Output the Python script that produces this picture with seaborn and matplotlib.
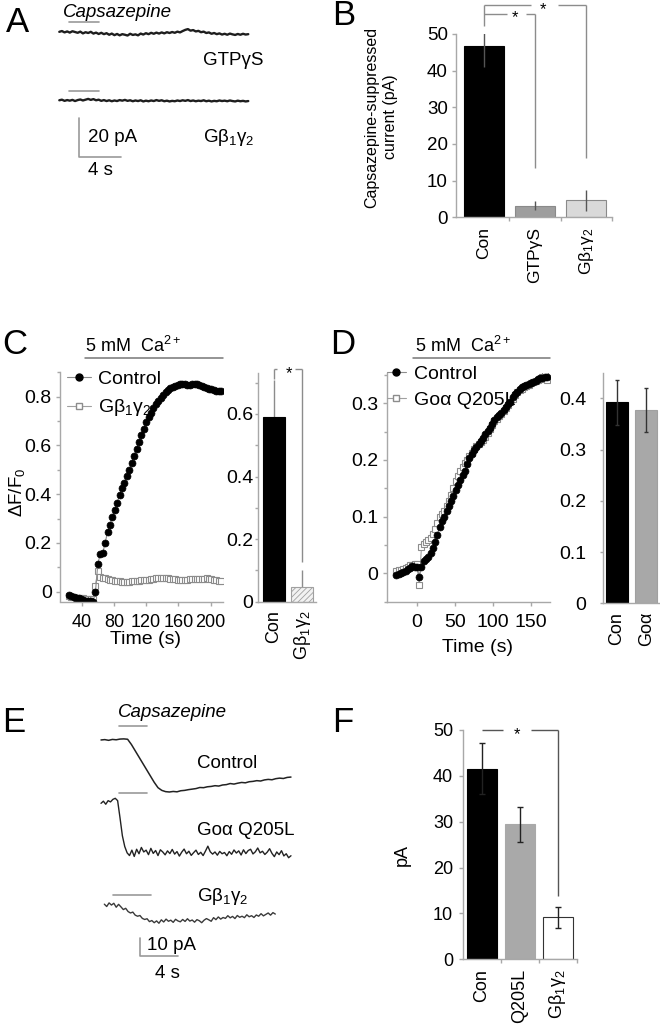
import numpy as np
import pandas as pd
import matplotlib
matplotlib.use("Agg")
import matplotlib.pyplot as plt
from matplotlib.lines import Line2D
from matplotlib.ticker import FuncFormatter, MultipleLocator
import seaborn as sns

# ======================= DATA =======================
# Panel A: whole-cell current traces (pA relative to baseline), sampled every 0.25 s
a_dt = 0.25
a_gtps = [0.6, 1.0, 0.3, 0.8, 0.2, 0.9, 0.5, 0.1, 0.7, -0.2,
          0.4, 0.0, 0.6, -0.3, 0.2, -0.5, 0.1, -0.6, -0.1, -0.9,
          -0.3, -1.1, -0.5, -1.2, -0.6, -0.9, -1.3, -0.4, -1.0, -0.7,
          -1.2, -0.3, -0.8, -0.1, -0.6, 0.1, -0.4, 0.2, -0.3, 0.3,
          -0.2, 0.4, 0.0, 0.5, 0.1, 0.7, 0.3, 1.0, 1.6, 2.0,
          1.2, 1.5, 0.8, 1.1, 0.4, 0.7, 0.0, 0.3, -0.4, 0.0,
          -0.6, -0.2, -0.8, -0.4, -0.9, -0.3, -0.7, -1.0, -0.5, -0.9,
          -0.4, -0.8, -0.6]
a_gbg = [0.2, 0.5, -0.1, 0.3, 0.0, 0.4, -0.2, 0.3, 0.6, 0.1,
         0.5, 0.9, 0.4, 0.8, 0.2, 0.5, -0.1, 0.3, -0.2, 0.2,
         -0.3, 0.1, -0.2, 0.3, 0.0, 0.4, -0.1, 0.2, -0.3, 0.1,
         -0.2, 0.2, -0.4, 0.0, -0.3, 0.1, -0.2, 0.3, -0.1, 0.2,
         -0.3, 0.0, -0.4, -0.1, -0.3, 0.1, -0.2, 0.2, -0.1, 0.3,
         -0.2, 0.1, -0.3, 0.0, -0.2, 0.2, -0.3, 0.0, -0.4, -0.1,
         -0.3, 0.1, -0.2, 0.0, -0.3, 0.1, -0.2, -0.4, 0.0, -0.3,
         -0.1, -0.4, -0.2]
a_capsazepine = (0.95, 3.8)   # application period, s

# Panel B
b_groups = ["Con", "GTPγS", "Gβ$_1$γ$_2$"]
b_mean = [46.7, 3.2, 4.6]
b_sem = [5.6, 1.3, 2.8]

# Panel C: time course
c_time = list(range(24, 214, 3))
c_control = [-0.015, -0.018, -0.021, -0.024, -0.027, -0.030, -0.033, -0.036, -0.038, -0.040, -0.043,
             0.000, 0.115, 0.155, 0.158, 0.200, 0.245, 0.275, 0.305, 0.335, 0.365,
             0.397, 0.424, 0.448, 0.474, 0.500, 0.530, 0.558, 0.587, 0.615, 0.643,
             0.668, 0.695, 0.716, 0.735, 0.752, 0.768, 0.782, 0.795, 0.808, 0.820,
             0.828, 0.834, 0.838, 0.842, 0.846, 0.850, 0.853, 0.850, 0.849, 0.849,
             0.850, 0.852, 0.850, 0.847, 0.843, 0.838, 0.835, 0.832, 0.830, 0.828,
             0.823, 0.822, 0.822]
c_gbg = [-0.018, -0.020, -0.022, -0.024, -0.025, -0.026, -0.027, -0.028, -0.029, -0.030, -0.028,
         0.025, 0.085, 0.062, 0.058, 0.055, 0.052, 0.050, 0.048, 0.046, 0.044,
         0.043, 0.042, 0.041, 0.041, 0.042, 0.043, 0.044, 0.045, 0.046, 0.047,
         0.048, 0.049, 0.050, 0.052, 0.054, 0.056, 0.057, 0.058, 0.057, 0.056,
         0.055, 0.054, 0.053, 0.052, 0.050, 0.049, 0.048, 0.049, 0.050, 0.051,
         0.052, 0.052, 0.051, 0.052, 0.053, 0.054, 0.055, 0.054, 0.052, 0.050,
         0.047, 0.045, 0.044]
c_groups = ["Con", "Gβ$_1$γ$_2$"]
c_mean = [0.59, 0.048]
c_sem = [0.12, 0.053]
c_ca_start = 44

# Panel D: time course
d_time = list(range(-27, 172, 3))
d_control = [-0.003, -0.002, 0.000, 0.003, 0.005, 0.007, 0.010, 0.013, 0.012, 0.012,
             -0.006, 0.011, 0.022, 0.026, 0.029, 0.036, 0.044, 0.056, 0.068, 0.082,
             0.092, 0.100, 0.110, 0.118, 0.128, 0.137, 0.147, 0.156, 0.165, 0.173,
             0.181, 0.192, 0.204, 0.211, 0.217, 0.223, 0.228, 0.233, 0.239, 0.246,
             0.251, 0.257, 0.264, 0.270, 0.276, 0.279, 0.283, 0.288, 0.293, 0.298,
             0.303, 0.311, 0.316, 0.320, 0.325, 0.328, 0.331, 0.332, 0.334, 0.336,
             0.338, 0.340, 0.342, 0.344, 0.345, 0.347, 0.346]
d_goa = [0.005, 0.006, 0.006, 0.008, 0.010, 0.012, 0.014, 0.015, 0.016, 0.017,
         -0.020, 0.047, 0.052, 0.055, 0.058, 0.062, 0.070, 0.078, 0.088, 0.100,
         0.104, 0.110, 0.118, 0.127, 0.138, 0.150, 0.163, 0.172, 0.180, 0.188,
         0.194, 0.200, 0.207, 0.213, 0.219, 0.224, 0.228, 0.232, 0.236, 0.241,
         0.247, 0.254, 0.262, 0.268, 0.272, 0.277, 0.281, 0.286, 0.291, 0.297,
         0.302, 0.308, 0.314, 0.319, 0.323, 0.326, 0.329, 0.331, 0.333, 0.335,
         0.337, 0.339, 0.341, 0.343, 0.346, 0.350, 0.341]
d_groups = ["Con", "Goα"]
d_mean = [0.392, 0.377]
d_sem = [0.044, 0.043]
d_ca_start = -5

# Panel E: current traces (pA relative to baseline)
e_dt_control = 0.4
e_control = [0.0, 0.2, -0.2, 0.3, 0.1, 0.5, 0.6, 0.4, -2.5, -6.0,
             -9.5, -13.0, -16.5, -20.0, -23.5, -26.5, -28.0, -28.7, -28.9, -28.6,
             -28.8, -28.2, -28.0, -27.6, -27.3, -27.0, -26.4, -26.5, -26.0, -25.8,
             -25.4, -25.6, -25.0, -24.8, -24.2, -24.5, -24.0, -23.6, -23.8, -23.2,
             -23.0, -22.6, -22.8, -22.2, -21.9, -22.1, -21.5, -21.2, -21.4, -20.8,
             -20.6]
e_dt = 0.25
e_goa = [0.0, 1.2, -0.5, 1.5, 0.8, 2.2, 2.8, 1.5, -8.0, -18.0,
         -24.0, -27.5, -29.0, -26.0, -29.5, -25.5, -28.0, -24.5, -27.0,
         -26.0, -28.5, -25.0, -27.8, -26.2, -29.0, -25.8, -27.0, -28.6, -26.4,
         -27.9, -25.6, -28.2, -26.8, -29.3, -27.1, -25.4, -28.0, -26.6, -28.9,
         -27.4, -26.0, -28.4, -27.2, -29.0, -26.5, -23.8, -26.9, -28.2, -27.0,
         -28.8, -26.7, -28.0, -27.3, -29.1, -26.8, -28.3, -25.9, -27.6, -26.4,
         -28.7, -25.8, -27.9, -26.2, -25.5, -28.1, -26.9, -24.8, -27.5, -26.6,
         -28.4, -27.1, -25.2, -27.8, -29.6, -27.0, -28.5, -26.3, -29.2, -28.0,
         -30.2, -29.1]
e_gbg_start = 0.35
e_gbg = [0.5, -0.8, 1.2, 0.0, 1.0, -1.2, 0.4,
         -1.0, -2.5, -1.8, -3.6, -4.4, -3.9, -5.6, -6.2, -5.8, -7.4, -8.0, -7.6, -9.2, -8.6, -9.8,
         -8.8, -10.1, -8.2, -9.4, -7.8, -9.0, -8.4, -9.6, -7.9, -8.8, -9.3, -8.0,
         -9.1, -7.6, -8.9, -8.3, -9.5, -8.1, -8.7, -9.8, -8.4, -7.5, -8.2, -9.0,
         -7.0, -8.1, -6.6, -7.8, -6.9, -7.4, -5.9, -7.1, -6.3, -7.5, -5.8, -6.8,
         -6.2, -7.0, -5.4, -6.5, -5.9, -6.9, -5.5, -6.2, -4.8, -6.0, -5.2, -4.4,
         -5.6, -4.2, -5.0]
e_capsazepine = [(1.93, 4.87), (1.93, 4.87), (1.23, 5.23)]

# Panel F
f_groups = ["Con", "Q205L", "Gβ$_1$γ$_2$"]
f_mean = [41.6, 29.4, 9.2]
f_sem = [5.5, 3.8, 2.3]

# ======================= STYLE / LAYOUT =======================
sns.set_style("ticks")
plt.rcParams["font.family"] = ["Liberation Sans", "DejaVu Sans"]
plt.rcParams["mathtext.default"] = "regular"
plt.rcParams["text.color"] = "black"
plt.rcParams["hatch.linewidth"] = 0.6

W, H = 660, 1025
fig = plt.figure(figsize=(W / 100, H / 100), dpi=100)
SPINE = "#a8a8a8"
BRK = "#8c8c8c"
BARLINE = "#9a9a9a"
fmt_g = FuncFormatter(lambda v, p: f"{v:g}")


def px_axes(left, top, right, bottom):
    return fig.add_axes([left / W, 1 - bottom / H, (right - left) / W, (bottom - top) / H])


def ptext(x, y, s, **kw):
    kw.setdefault("fontsize", 13)
    kw.setdefault("va", "baseline")
    return fig.text(x / W, 1 - y / H, s, **kw)


def style(ax, fs):
    sns.despine(ax=ax)
    for s in ["left", "bottom"]:
        ax.spines[s].set_color(SPINE)
        ax.spines[s].set_linewidth(1.0)
    ax.tick_params(colors=SPINE, labelcolor="black", labelsize=fs, length=3, width=1)
    ax.tick_params(which="minor", colors=SPINE, length=2, width=1)
    ax.set_xlabel("")
    ax.set_ylabel("")


def seg(ax, xs, ys, color=BRK, lw=1.0):
    ax.plot(xs, ys, color=color, lw=lw, clip_on=False, solid_capstyle="butt")


def star(ax, x, y, fs=12):
    ax.annotate("*", (x, y), xytext=(0, -3), textcoords="offset points",
                ha="center", va="center", fontsize=fs, annotation_clip=False)


def bars(ax, groups, means, sems, fills, edges, width, ecolor, cap, ezorder=3):
    df = pd.DataFrame({"group": groups, "value": means})
    sns.barplot(data=df, x="group", y="value", hue="group", palette=fills, legend=False,
                width=width, errorbar=None, saturation=1, linewidth=0.8, ax=ax)
    for p, ec in zip(ax.patches, edges):
        p.set_edgecolor(ec)
    ax.errorbar(np.arange(len(means)), means, yerr=sems, fmt="none", ecolor=ecolor,
                elinewidth=1, capsize=cap, capthick=1, zorder=ezorder)


# ---------------- Panel A ----------------
axA = px_axes(50, 0, 270, 185)
axA.axis("off")
axA.set_xlim(-0.886, 20.07)
axA.set_ylim(-77.95, 16.92)
A_OFF = [0.0, -34.7]
A_BAR_Y = [5.8, -29.7]
for vals, off, by in zip([a_gtps, a_gbg], A_OFF, A_BAR_Y):
    t = np.arange(len(vals)) * a_dt
    sns.lineplot(x=t, y=np.array(vals) + off, ax=axA, color="#1e1e1e", lw=1.7)
    axA.plot(a_capsazepine, [by, by], color=BARLINE, lw=1.2)
axA.plot([1.9, 1.9, 5.9], [-43.6, -63.6, -63.6], color=BARLINE, lw=1.2)
ptext(63, 17, "Capsazepine", fontstyle="italic", fontsize=13.5)
ptext(203, 65, "GTPγS", fontsize=13.5)
ptext(203, 142, "Gβ$_1$γ$_2$", fontsize=13.5)
ptext(88, 142, "20 pA", fontsize=13.5)
ptext(88, 175, "4 s", fontsize=13.5)

# ---------------- Panel B ----------------
axB = px_axes(455.5, 34, 611.7, 217.3)
bars(axB, b_groups, b_mean, b_sem, ["black", "#9e9e9e", "#d9d9d9"],
     ["black", "#8a8a8a", "#8a8a8a"], 0.79, "#555555", 0)
axB.set_xlim(-0.555, 2.5)
axB.set_ylim(0, 50)
style(axB, 13.5)
axB.yaxis.set_major_locator(MultipleLocator(10))
axB.tick_params(axis="y", length=3, pad=2.5)
axB.set_xticks(range(3))
axB.set_xticklabels(b_groups, rotation=90, fontsize=12.5)
axB.tick_params(axis="x", length=0, pad=7)
axB.set_xticks([0.5, 1.5, 2.5], minor=True)
axB.tick_params(axis="x", which="minor", length=3)
seg(axB, [0, 0], [52.3, 57.9])
seg(axB, [0, 0.92], [57.9, 57.9])
seg(axB, [1.44, 2], [57.9, 57.9])
seg(axB, [2, 2], [57.9, 16.1])
star(axB, 1.15, 57.9)
seg(axB, [0, 0.46], [55.5, 55.5])
seg(axB, [0.82, 1], [55.5, 55.5])
seg(axB, [1, 1], [55.5, 13.4])
star(axB, 0.6, 55.5)
ptext(381, 117, "Capsazepine-suppressed\ncurrent (pA)", rotation=90, ha="center",
      va="center", fontsize=11.5, multialignment="center", linespacing=1.35)

# ---------------- Panel C ----------------
axC = px_axes(60, 372.3, 222.7, 601.5)
sns.lineplot(x=c_time, y=c_gbg, ax=axC, color="#a0a0a0", lw=0.8, marker="s", markersize=4.5,
             markerfacecolor="white", markeredgecolor="#8c8c8c", markeredgewidth=0.8)
sns.lineplot(x=c_time, y=c_control, ax=axC, color="#8c8c8c", lw=0.8, marker="o", markersize=5,
             markerfacecolor="black", markeredgecolor="black", markeredgewidth=0.5)
axC.set_xlim(13, 215)
axC.set_ylim(-0.04, 0.9)
style(axC, 14)
axC.set_xticks([40, 80, 120, 160, 200])
axC.set_yticks([0, 0.2, 0.4, 0.6, 0.8])
axC.yaxis.set_major_formatter(fmt_g)
axC.yaxis.set_minor_locator(MultipleLocator(0.1))
axC.tick_params(axis="x", pad=6, labelsize=13)
axC.tick_params(axis="y", pad=3)
hC = [Line2D([], [], color="#8c8c8c", lw=0.8, marker="o", ms=5, mfc="black", mec="black"),
      Line2D([], [], color="#a0a0a0", lw=0.8, marker="s", ms=4.5, mfc="white", mec="#8c8c8c")]
axC.legend(hC, ["Control", "Gβ$_1$γ$_2$"], loc="upper left", bbox_to_anchor=(0.045, 1.01),
           frameon=False, fontsize=14, handlelength=1.2, handletextpad=0.4,
           labelspacing=0.5, borderaxespad=0, borderpad=0)
axC.plot([c_ca_start, 215], [0.957, 0.957], color="#777777", lw=1.1, clip_on=False)
ptext(85, 352, "5 mM  Ca$^{2+}$", fontsize=13)
ptext(17, 492, "ΔF/F$_0$", rotation=90, ha="center", va="center", fontsize=13.5)
ptext(146, 640, "Time (s)", ha="center", va="center", fontsize=14)

axCi = px_axes(258.3, 373.3, 316, 601.7)
bars(axCi, c_groups, c_mean, c_sem, ["black", "#f2f2f2"], ["black", "#a0a0a0"], 0.78,
     "#8c8c8c", 0, ezorder=0.5)
axCi.patches[1].set_hatch("//////")
axCi.set_xlim(-0.54, 1.48)
axCi.set_ylim(0, 0.73)
style(axCi, 14)
axCi.set_yticks([0, 0.2, 0.4, 0.6])
axCi.yaxis.set_major_formatter(fmt_g)
axCi.yaxis.set_minor_locator(MultipleLocator(0.1))
axCi.tick_params(axis="y", length=2, pad=1.5)
axCi.set_xticks(range(2))
axCi.set_xticklabels(c_groups, rotation=90, fontsize=13)
axCi.tick_params(axis="x", length=0, pad=6)
seg(axCi, [0, 0], [0.711, 0.743])
seg(axCi, [0, 0.12], [0.743, 0.743])
seg(axCi, [0.74, 1], [0.743, 0.743])
seg(axCi, [1, 1], [0.743, 0.128])
star(axCi, 0.55, 0.743)

# ---------------- Panel D ----------------
axD = px_axes(386.5, 373.2, 550, 601.7)
sns.lineplot(x=d_time, y=d_goa, ax=axD, color="#a0a0a0", lw=0.8, marker="s", markersize=4.5,
             markerfacecolor="white", markeredgecolor="#8c8c8c", markeredgewidth=0.8)
sns.lineplot(x=d_time, y=d_control, ax=axD, color="#8c8c8c", lw=0.8, marker="o", markersize=5,
             markerfacecolor="black", markeredgecolor="black", markeredgewidth=0.5)
axD.set_xlim(-40, 175)
axD.set_ylim(-0.05, 0.353)
style(axD, 14)
axD.set_xticks([0, 50, 100, 150])
axD.set_yticks([0, 0.1, 0.2, 0.3])
axD.yaxis.set_major_formatter(fmt_g)
axD.yaxis.set_minor_locator(MultipleLocator(0.05))
axD.tick_params(axis="x", pad=6)
axD.tick_params(axis="y", pad=3)
hD = [Line2D([], [], color="#8c8c8c", lw=0.8, marker="o", ms=5, mfc="black", mec="black"),
      Line2D([], [], color="#a0a0a0", lw=0.8, marker="s", ms=4.5, mfc="white", mec="#8c8c8c")]
axD.legend(hD, ["Control", "Goα Q205L"], loc="upper left", bbox_to_anchor=(0.0, 1.035),
           frameon=False, fontsize=14, handlelength=1.0, handletextpad=0.4,
           labelspacing=0.45, borderaxespad=0, borderpad=0)
axD.plot([d_ca_start, 175], [0.379, 0.379], color="#777777", lw=1.1, clip_on=False)
ptext(415, 352, "5 mM  Ca$^{2+}$", fontsize=13)
ptext(477, 648, "Time (s)", ha="center", va="center", fontsize=14)

axDi = px_axes(602.7, 372.7, 660, 603.3)
bars(axDi, d_groups, d_mean, d_sem, ["black", "#a8a8a8"], ["black", "#a0a0a0"], 0.75,
     "#333333", 1.5)
axDi.set_xlim(-0.48, 1.47)
axDi.set_ylim(0, 0.45)
style(axDi, 14)
axDi.set_yticks([0, 0.1, 0.2, 0.3, 0.4])
axDi.yaxis.set_major_formatter(fmt_g)
axDi.tick_params(axis="y", length=2, pad=10)
axDi.set_xticks(range(2))
axDi.set_xticklabels(d_groups, rotation=90, fontsize=13)
axDi.tick_params(axis="x", length=0, pad=6)

# ---------------- Panel E ----------------
axE = px_axes(95, 700, 300, 985)
axE.axis("off")
axE.set_xlim(-0.632, 20.95)
axE.set_ylim(-136.1, 22.2)
E_OFF = [0.0, -35.2, -91.7]
E_BAR_Y = [7.8, -29.4, -86.1]
e_series = [(np.arange(len(e_control)) * e_dt_control, e_control, "#222222", 1.1),
            (np.arange(len(e_goa)) * e_dt, e_goa, "#222222", 1.0),
            (e_gbg_start + np.arange(len(e_gbg)) * e_dt, e_gbg, "#3a3a3a", 1.0)]
for (t, vals, col, lw), off, by, cap in zip(e_series, E_OFF, E_BAR_Y, e_capsazepine):
    sns.lineplot(x=t, y=np.array(vals) + off, ax=axE, color=col, lw=lw)
    axE.plot(cap, [by, by], color=BARLINE, lw=1.2)
axE.plot([4.1, 4.1, 8.1], [-110, -120, -120], color=BARLINE, lw=1.2)
ptext(118, 716.7, "Capsazepine", fontstyle="italic", fontsize=13.5)
ptext(197, 768.3, "Control", fontsize=13.5)
ptext(197, 835, "Goα Q205L", fontsize=13.5)
ptext(197, 901, "Gβ$_1$γ$_2$", fontsize=13.5)
ptext(147, 950, "10 pA", fontsize=13.5)
ptext(155, 978.3, "4 s", fontsize=13.5)

# ---------------- Panel F ----------------
axF = px_axes(462.7, 730, 576.7, 959.3)
bars(axF, f_groups, f_mean, f_sem, ["black", "#a9a9a9", "white"],
     ["black", "#a9a9a9", "#333333"], 0.78, "#222222", 2.5)
axF.set_xlim(-0.5, 2.5)
axF.set_ylim(0, 50)
style(axF, 13)
axF.yaxis.set_major_locator(MultipleLocator(10))
axF.tick_params(axis="y", length=3, pad=4)
axF.set_xticks(range(3))
axF.set_xticklabels(f_groups, rotation=90, fontsize=13)
axF.tick_params(axis="x", length=0, pad=7)
axF.set_xticks([0.5, 1.5, 2.5], minor=True)
axF.tick_params(axis="x", which="minor", length=3)
seg(axF, [0, 0.55], [50, 50], color="#555555")
seg(axF, [1.3, 2], [50, 50], color="#555555")
seg(axF, [2, 2], [50, 13.8], color="#555555")
star(axF, 0.94, 50)
ptext(402.5, 855, "pA", rotation=90, ha="center", va="center", fontsize=13)

# ---------------- Panel letters ----------------
for x, y, s in [(6, 32, "A"), (332, 25, "B"), (2, 354, "C"), (330, 354, "D"),
                (2, 732, "E"), (332, 732, "F")]:
    ptext(x, y, s, fontsize=25)

fig.savefig("out.png", dpi=100)
